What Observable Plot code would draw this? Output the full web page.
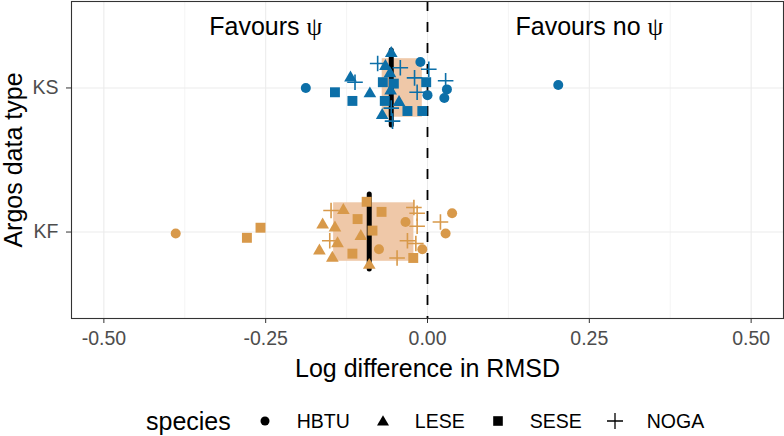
<!DOCTYPE html>
<html>
<head>
<meta charset="utf-8">
<script src="https://cdn.jsdelivr.net/npm/d3@7"></script>
<script src="https://cdn.jsdelivr.net/npm/@observablehq/plot@0.6"></script>
<style>
  body { margin: 0; background: #fff; font-family: "Liberation Sans", Arial, Helvetica, sans-serif; }
  #wrap { position: relative; width: 784px; height: 436px; overflow: hidden; }
  #legend { position: absolute; left: 146px; top: 406px; height: 30px; display: flex; align-items: center; color: #000; }
  #legend .title { font-size: 25px; margin-right: 25px; }
  #legend .lab { font-size: 19.5px; margin-left: 23px; margin-right: 24px; }
  #legend svg { display: block; }
</style>
</head>
<body>
<div id="wrap">
  <div id="chart"></div>
  <div id="legend"></div>
</div>
<script>
// ---------- data ----------
const types = ["KF", "KS"];                 // y positions 1, 2
const typeColors = ["#D8994A", "#0C6FA8"];
const speciesCodes = ["H", "L", "S", "N"];
const speciesNames = ["HBTU", "LESE", "SESE", "NOGA"];

const ksValues = [-0.188,-0.143,-0.116,-0.119,-0.112,-0.089,-0.077,-0.056,-0.065,-0.042,-0.058,-0.069,-0.052,-0.057,-0.066,-0.044,-0.056,-0.070,-0.054,-0.011,0.002,-0.020,-0.002,-0.016,0.000,-0.031,-0.008,0.028,0.030,0.026,0.202];
const ksJitter = [0.00,-0.03,-0.09,0.07,0.04,-0.04,0.17,0.24,0.15,0.14,0.10,0.04,0.03,-0.02,-0.09,-0.10,-0.14,-0.19,-0.23,0.18,0.13,0.07,0.04,-0.03,-0.05,-0.16,-0.16,0.05,-0.01,-0.07,0.02];
const ksSpecies = ["H","S","S","L","N","L","N","L","L","N","L","S","S","L","S","L","N","L","N","H","N","N","S","N","H","S","S","N","H","H","H"];

const kfValues = [-0.389,-0.279,-0.258,-0.149,-0.130,-0.162,-0.143,-0.151,-0.139,-0.167,-0.147,-0.108,-0.103,-0.116,-0.094,-0.085,-0.090,-0.075,-0.071,-0.021,-0.016,-0.034,-0.016,-0.031,-0.018,-0.008,-0.047,-0.022,0.020,0.038,0.028];
const kfJitter = [-0.01,-0.04,0.03,0.15,0.15,0.05,0.03,-0.06,-0.08,-0.13,-0.18,0.09,-0.03,-0.15,0.21,0.01,-0.23,-0.12,0.14,0.17,0.13,0.07,0.04,-0.06,-0.08,-0.12,-0.18,-0.18,0.07,0.13,-0.01];
const kfSpecies = ["H","S","S","N","L","L","L","N","L","L","L","S","L","S","S","S","L","H","S","N","N","H","N","N","N","H","N","S","N","H","H"];

const boxLow = [-0.145, -0.070];
const boxHigh = [-0.021, -0.008];
const meanDiff = [-0.090, -0.056];

const xTicks = [-0.5, -0.25, 0, 0.25, 0.5];
const xMinor = [-0.375, -0.125, 0.125, 0.375];
const annotations = ["Favours ψ", "Favours no ψ"];
const annotationX = [-0.25, 0.25];
const annotationY = [2.42, 2.42];

// ---------- tables ----------
const points = [];
[[kfValues, kfJitter, kfSpecies], [ksValues, ksJitter, ksSpecies]].forEach(([v, j, s], ti) => {
  v.forEach((x, i) => points.push({type: types[ti], x, y: ti + 1 + j[i], sp: s[i]}));
});
const summary = types.map((t, i) => ({type: t, pos: i + 1, lo: boxLow[i], hi: boxHigh[i], mean: meanDiff[i]}));
const notes = annotations.map((t, i) => ({t, x: annotationX[i], y: annotationY[i]}));

const plusSymbol = {
  draw(ctx, size) {
    const r = Math.sqrt(size / Math.PI);
    ctx.moveTo(-r, 0); ctx.lineTo(r, 0);
    ctx.moveTo(0, -r); ctx.lineTo(0, r);
  }
};

const ofSp = c => points.filter(d => d.sp === c);

const chart = Plot.plot({
  width: 784,
  height: 392,
  marginLeft: 71,
  marginRight: 1,
  marginTop: 1,
  marginBottom: 74,
  style: {fontFamily: '"Liberation Sans", Arial, Helvetica, sans-serif', background: "#fff", overflow: "visible"},
  x: {domain: [-0.55, 0.55]},
  y: {domain: [0.4, 2.6]},
  color: {domain: types, range: typeColors},
  marks: [
    Plot.gridX(xMinor, {stroke: "#EBEBEB", strokeOpacity: 1, strokeWidth: 0.55}),
    Plot.gridX(xTicks, {stroke: "#EBEBEB", strokeOpacity: 1, strokeWidth: 1.07}),
    Plot.gridY([1, 2], {stroke: "#EBEBEB", strokeOpacity: 1, strokeWidth: 1.07}),
    Plot.rect(summary, {x1: "lo", x2: "hi", y1: d => d.pos - 0.203, y2: d => d.pos + 0.203, fill: "#EFC8A8"}),
    Plot.ruleX([0], {stroke: "#000", strokeWidth: 1.8, strokeDasharray: "10,11"}),
    Plot.ruleX(summary, {x: "mean", y1: d => d.pos - 0.26, y2: d => d.pos + 0.26, stroke: "#000", strokeWidth: 5, strokeLinecap: "round"}),
    Plot.dot(ofSp("H"), {x: "x", y: "y", symbol: "circle", r: 5, fill: "type", stroke: "none"}),
    Plot.dot(ofSp("L"), {x: "x", y: "y", symbol: "triangle", r: 4.7, fill: "type", stroke: "none"}),
    Plot.dot(ofSp("S"), {x: "x", y: "y", symbol: "square", r: 5.6, fill: "type", stroke: "none"}),
    Plot.dot(ofSp("N"), {x: "x", y: "y", symbol: plusSymbol, r: 7.8, fill: "none", stroke: "type", strokeWidth: 1.6}),
    Plot.text(notes, {x: "x", y: "y", text: "t", fontSize: 25, fill: "#000"}),
    Plot.frame({stroke: "#333", strokeWidth: 1.1}),
    Plot.axisX(xTicks, {tickFormat: d => d.toFixed(2), tickSize: 5, tickPadding: 8, fontSize: 19.5, stroke: "#333", fill: "#4D4D4D", label: null}),
    Plot.axisY([1, 2], {tickFormat: d => types[d - 1], tickSize: 5, tickPadding: 8, fontSize: 19.5, stroke: "#333", fill: "#4D4D4D", label: null}),
    Plot.text(["Log difference in RMSD"], {frameAnchor: "bottom", lineAnchor: "middle", textAnchor: "middle", dy: 50, fontSize: 25, fill: "#000"}),
    Plot.text(["Argos data type"], {frameAnchor: "left", textAnchor: "middle", lineAnchor: "middle", dx: -58, rotate: -90, fontSize: 25, fill: "#000"})
  ]
});
document.getElementById("chart").appendChild(chart);

// set psi in a serif face, like the reference
d3.select(chart).selectAll("text").filter(function() { return this.childElementCount === 0 && this.textContent.includes("ψ"); })
  .each(function() {
    const parts = this.textContent.split("ψ");
    const el = d3.select(this);
    el.text(null);
    el.append("tspan").text(parts[0]);
    el.append("tspan").attr("font-family", '"Liberation Serif", "DejaVu Serif", serif').text("ψ");
  });

// ---------- legend ----------
const legend = d3.select("#legend");
legend.append("span").attr("class", "title").text("species");
const shapes = {
  H: s => s.append("circle").attr("cx", 9).attr("cy", 9).attr("r", 4.5).attr("fill", "#000"),
  L: s => s.append("path").attr("d", "M9,3.2L15,13.4L3,13.4Z").attr("fill", "#000"),
  S: s => s.append("rect").attr("x", 4.2).attr("y", 4.2).attr("width", 9.6).attr("height", 9.6).attr("fill", "#000"),
  N: s => s.append("path").attr("d", "M1,9H17M9,1V17").attr("stroke", "#000").attr("stroke-width", 1.3).attr("fill", "none")
};
speciesCodes.forEach((c, i) => {
  const svg = legend.append("svg").attr("width", 18).attr("height", 18);
  shapes[c](svg);
  legend.append("span").attr("class", "lab").text(speciesNames[i]);
});
</script>
</body>
</html>
